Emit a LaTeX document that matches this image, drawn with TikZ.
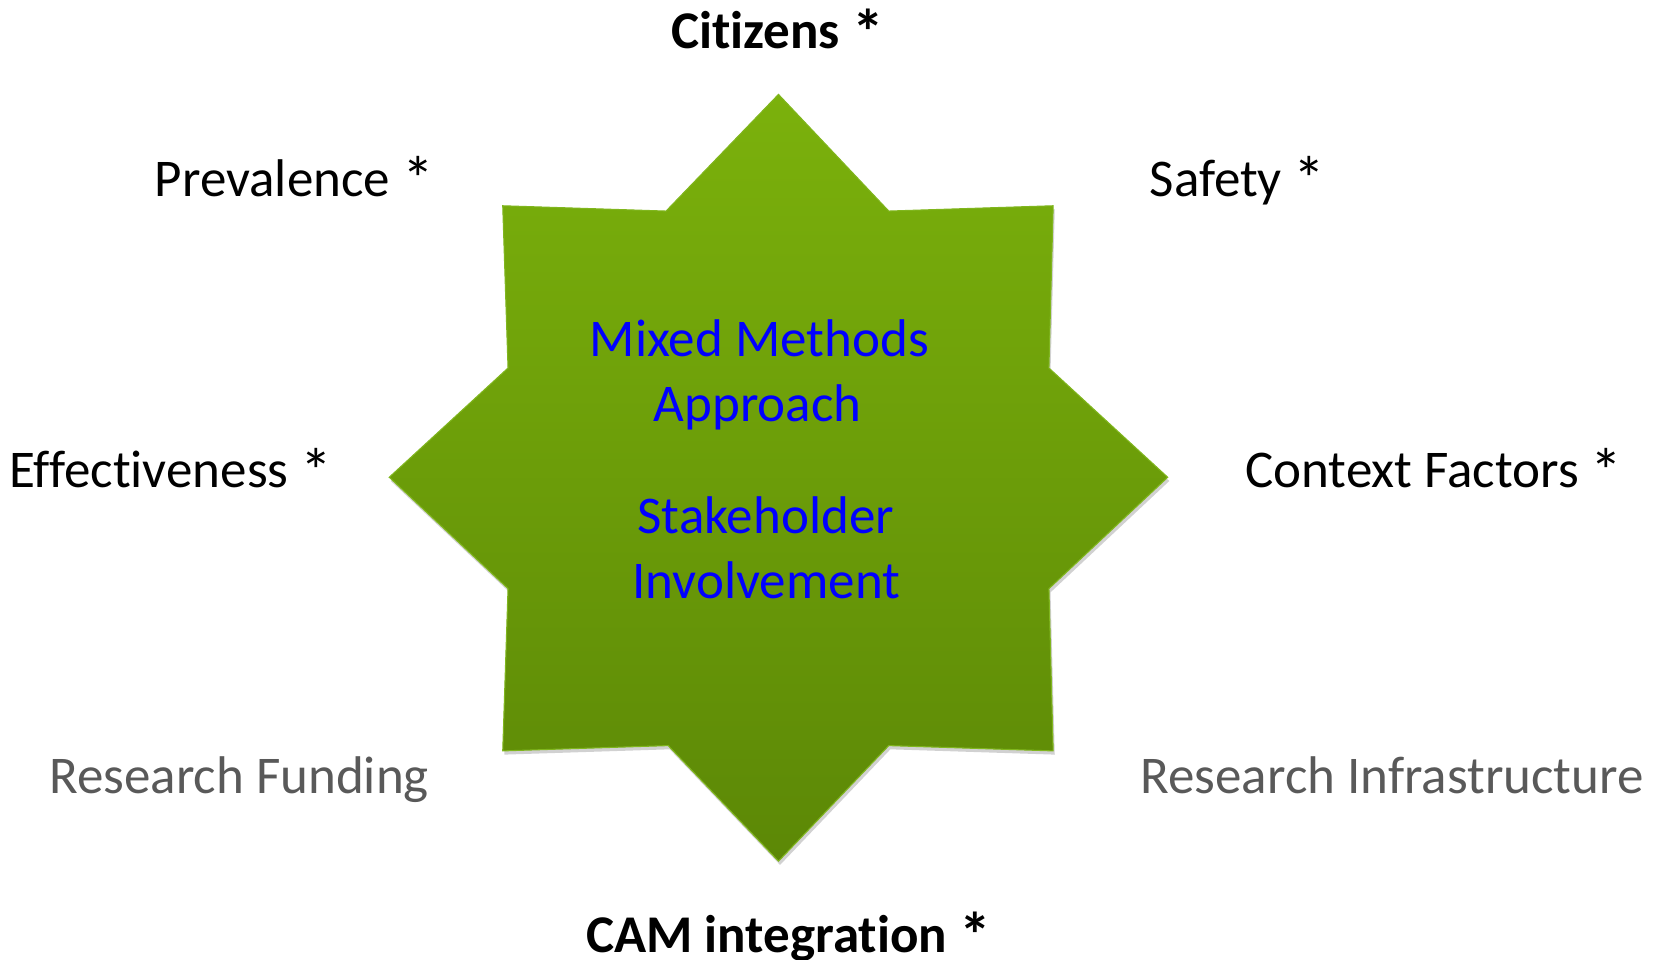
\documentclass[tikz,border=0pt]{standalone}
\usepackage{graphicx}
\usepackage{fontspec}
\setmainfont[Ligatures={NoCommon}]{Carlito}
\newcommand{\astk}{\raisebox{-0.1em}{\scalebox{1.2}{*}}}
\definecolor{startop}{RGB}{123,177,12}
\definecolor{starbot}{RGB}{92,136,6}
\definecolor{staredge}{RGB}{128,182,30}
\definecolor{labgray}{RGB}{89,89,89}
\definecolor{cblue}{RGB}{0,0,255}
\tikzset{
  lab/.style={inner sep=0pt, anchor=base, font=\fontsize{50}{61}\selectfont, text=black},
  boldlab/.style={lab, font=\fontsize{50}{61}\selectfont\bfseries},
  graylab/.style={lab, text=labgray},
  centerlab/.style={lab, text=cblue},
}
\begin{document}
\begin{tikzpicture}[x=1pt,y=-1pt]
\useasboundingbox (0,0) rectangle (1568,905);
\def\starpath{(734,89) -- (838,199) -- (993,194) -- (989,347) -- (1101,450) -- (989,555) -- (993,708) -- (838,703) -- (734,812) -- (630,703) -- (474,708) -- (479,555) -- (367,450) -- (479,347) -- (474,194) -- (628,199) -- cycle}
% shadow
\fill[black!18, shift={(1.5,3.5)}] \starpath;
% star
\shade[top color=startop, bottom color=starbot, draw=staredge, line width=1pt] \starpath;
% labels
\node[boldlab] (citizens) at (733,46) {Citizens \astk};
\node[lab] (prevalence) at (277.5,185) {Prevalence \astk};
\node[lab] (safety) at (1167,185) {Safety \astk};
\node[lab] (effect) at (161,460) {Effectiveness \astk};
\node[lab] (context) at (1352,460) {Context Factors \astk};
\node[graylab] (funding) at (225.5,748) {Research Funding};
\node[graylab] (infra) at (1312.5,748) {Research Infrastructure};
\node[boldlab] (cam) at (743.5,898) {CAM integration \astk};
% centre text
\node[centerlab] (mixed) at (716,336) {Mixed Methods};
\node[centerlab] (approach) at (714.5,397) {Approach};
\node[centerlab] (stake) at (722,503) {Stakeholder};
\node[centerlab] (involve) at (722.5,564) {Involvement};
\end{tikzpicture}
\end{document}
